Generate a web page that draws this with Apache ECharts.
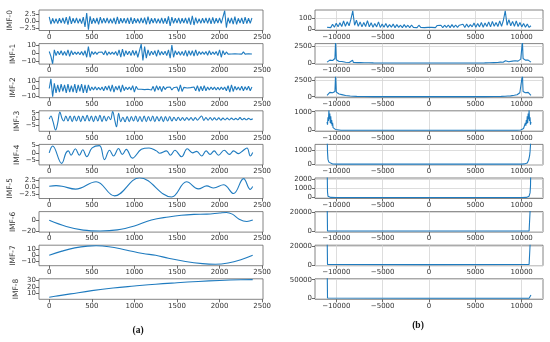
<!DOCTYPE html>
<html><head><meta charset="utf-8">
<script src="https://cdn.jsdelivr.net/npm/echarts@6/dist/echarts.min.js"></script>
<style>html,body{margin:0;padding:0;background:#fff}#c{width:550px;height:342px}</style>
</head><body><div id="c"></div>
<script>
// ---------- data ----------
const sampleStep = 20; // sample spacing for the noisy IMFs
const imf0 = [1.4,-1.2,0.9,-0.9,0.8,-1.0,0.9,-0.8,1.0,-1.0,
 1.3,-1.4,1.6,-1.1,0.9,-0.8,1.0,-0.9,0.8,-1.0,
 1.3,-2.2,2.8,-3.2,1.6,-1.1,0.9,-0.9,1.0,-1.3,
 1.3,-0.9,0.9,-0.8,1.0,-0.9,0.8,-0.9,1.0,-1.2,
 1.4,-1.1,0.9,-0.8,0.9,-0.9,1.0,-1.1,1.2,-1.1,
 0.9,-0.8,0.8,-0.9,1.0,-0.8,1.1,-1.3,1.5,-1.2,
 0.9,-0.8,0.9,-0.9,0.8,-0.9,1.0,-1.0,0.9,-1.1,
 1.6,-1.8,1.3,-0.9,0.9,-0.8,1.0,-1.0,0.9,-0.8,
 1.0,-1.0,1.1,-1.4,1.8,-1.5,1.1,-0.9,0.8,-0.9,
 0.9,-0.8,1.0,-0.9,1.0,-1.1,1.2,-1.0,0.9,-0.8,
 1.0,-0.9,-1.3,3.6,-2.4,1.1,-0.9,1.0,-1.2,1.5,
 -1.3,0.9,-0.8,1.0,-1.1,1.3,-1.0,0.9,-0.9,1.0];
const imf1 = [2,-4,-13,4,-3,2.5,-2,3,-2.5,2,
 -3,4,-4,3,-2,1.5,-1.5,1.5,-2,2,
 -2.5,3,-5,8,-5,2,-1.5,1.5,-1.5,1.2,
 -1.2,1.5,-2,3,-2.5,1.5,-1.5,1.2,-1.5,2,
 -3,4,-5,5,-4,3,-2,2.5,-3,3.5,
 -2.5,3,-5,-7,11,-9,8,-6,4,-3,
 2.5,-2,3,-4,4,-2.5,2,-2,2.5,-3,
 4,-6,10,-5,3,-2,2,-2.5,2,-3,
 3.5,-4,3,-2.5,3,-3.5,4,-3,2,-1.5,
 1.5,-1.5,2,-2.5,3,-2,1.5,-1.5,2,-3,
 4,-5,3,-2,1.5,-1.2,1,-1,0.8,-0.8,
 1,-1,0.8,-1.2,1.5,-1.2,1,-0.8,1.5,-1];
const imf2 = [0,13,-11,7,-6,5,-5,6,-4,5,
 -6,6,-5,4,-5,6,-6,5,-4,6,
 -6,5,-6,5,-3,2,-2,2.5,-2,1.5,
 -2,2,-3,3,-2,4,-4,5,-5,3,
 -2,4,-5,5,-3,2,-1.5,2,-2,4,
 -5,3,-1,1.5,-1,1.2,-1.5,1,-1,1.5,
 -2,3,-4,4,-2,3,-4,3,-1.5,1.5,
 -1,2,-2,1,-1.5,2,-4,5,-4,1.5,
 -1,0.8,-1,1.2,-1,2,-3,4,-4,3,
 -3,4,-3,2,-2,2,-1.5,2,-2,1.5,
 -2,2,-1.5,2,-3,4,-5,5,-4,3,
 -2,2,-2.5,3,-3,2.5,-2,3,-3,2];
const imf3 = [[0,0],[20,2.5],[45,-2],[75,-8.5],[100,-3],[125,5.5],[150,0.5],[170,-1.5],[195,2.5],[220,-1.5],[245,2.5],[270,-2],[295,2.5],[320,-1.5],[345,2.5],[370,-2],[395,2.5],[420,-1.5],[445,3],[470,-1.5],[495,2.5],[520,-2],[545,2.5],[570,-1.5],[595,3],[620,-2],[645,2.5],[670,-1.5],[695,2],[720,-0.5],[745,6],[770,-1],[790,-6],[815,4.5],[840,-2],[865,1.5],[890,-2],[915,2],[940,-2],[965,2],[990,-1.5],[1015,2.5],[1040,-2],[1065,2],[1090,-2],[1115,2.5],[1140,-2],[1165,2],[1190,-1.5],[1215,2.5],[1240,-2],[1265,2],[1290,-1.5],[1315,2],[1340,-2],[1365,2],[1390,-1.5],[1415,2],[1440,-1.5],[1465,1.5],[1490,-1.2],[1515,1.5],[1540,-1],[1565,1.2],[1590,-1],[1615,1.2],[1640,-0.8],[1665,1.2],[1690,-1],[1715,1.2],[1740,-0.8],[1765,1],[1790,2.5],[1815,-1],[1840,1.2],[1865,-0.8],[1890,1.2],[1915,-0.8],[1940,1],[1965,-0.7],[1990,1],[2015,-0.8],[2040,0.8],[2065,-0.6],[2090,0.8],[2115,-0.6],[2140,0.8],[2165,-0.5],[2190,0.6],[2215,-0.5],[2240,1.2],[2265,-0.5],[2290,0.6],[2315,-0.5],[2340,0.6],[2365,-0.4],[2390,0.3]];
const imf4 = [[0,0],[40,4.5],[146,-6.8],[197,0],[225,1.3],[256,-1.5],[307,2.7],[354,-1.5],[394,2],[441,-2.5],[504,3.2],[590,4.7],[649,-4.4],[708,1.7],[755,-2],[814,2.8],[858,-1],[905,2.3],[976,-3.4],[1082,2.3],[1172,3.2],[1259,1.3],[1298,-0.2],[1377,1.3],[1424,-1.5],[1476,1.7],[1554,-2.5],[1621,2.7],[1684,0],[1731,1],[1790,-2],[1842,1.3],[1889,-1],[1936,1.3],[1987,-1.5],[2054,1.7],[2117,-1],[2164,1.3],[2223,-0.5],[2263,0.9],[2322,3.2],[2361,-2],[2389,0.3]];
const imf5 = [[0,0.3],[80,0.5],[150,0.3],[310,-0.7],[551,1.8],[767,-3],[1060,3.2],[1436,-3.4],[1613,1.8],[1751,-0.6],[1850,0.4],[1930,-0.3],[2047,0.8],[2164,-2.2],[2282,2.9],[2361,-0.8],[2389,0.2]];
const imf6 = [[0,0],[200,-11],[400,-17.5],[600,-19],[800,-17],[1000,-10],[1200,0.5],[1400,6],[1550,9],[1700,10.5],[1850,11],[2000,13],[2080,14],[2150,11],[2230,2],[2320,-2],[2390,0.5]];
const imf7 = [[0,0],[150,7],[300,12.5],[450,15.5],[550,16],[700,14.5],[900,9],[1100,3],[1250,0],[1400,-5],[1600,-10.5],[1800,-14],[1950,-15],[2100,-13],[2250,-7.5],[2389,0]];
const imf8 = [[0,4.5],[100,6.5],[250,9.5],[500,14.5],[750,18.5],[1000,21.5],[1250,24.3],[1500,26.5],[1750,28.5],[2000,30],[2250,31],[2389,31.3]];

const specStart = -11000, specStep = 198.2; // frequency bins of spectrum (b)-1
const spec0 = [22,38,18,48,22,58,25,62,28,78,30,72,35,95,170,40,85,30,70,25,65,28,82,25,62,22,55,25,70,20,50,22,55,20,45,22,50,18,45,20,40,18,45,20,40,18,42,20,38,18,40,20,36,18,35,20,
 30,20,35,18,38,20,40,18,40,20,42,18,45,20,42,20,40,22,48,20,50,22,45,25,60,22,55,25,65,22,60,28,70,25,75,30,65,28,80,30,85,170,40,90,35,75,30,80,28,65,25,55,22,50,20,35];
const spec1 = [[-11000,150],[-10900,300],[-10800,200],[-10700,450],[-10600,300],[-10500,600],[-10400,400],[-10300,650],[-10200,450],[-10150,700],[-10080,3300],[-10000,500],[-9900,350],[-9800,450],[-9700,250],[-9600,300],[-9500,180],[-9400,250],[-9300,150],[-9200,200],[-9000,120],[-8800,180],[-8600,100],[-8400,150],[-8250,420],[-8150,100],[-8000,120],[-7700,80],[-7400,100],[-7000,60],[-6500,50],[-6000,30],[-5000,25],[-4000,20],[0,20],[4000,20],[5000,25],[6000,30],[6500,50],[7000,80],[7400,100],[7700,150],[8000,120],[8150,200],[8250,350],[8400,150],[8600,200],[8800,180],[9000,300],[9200,200],[9300,350],[9400,250],[9500,400],[9600,300],[9700,500],[9800,400],[9900,600],[10000,450],[10080,3300],[10150,700],[10200,500],[10300,650],[10400,450],[10500,600],[10600,350],[10700,450],[10800,250],[10900,300],[11000,150]];
const spec2 = [[-11000,200],[-10900,450],[-10800,350],[-10700,650],[-10600,500],[-10500,800],[-10400,600],[-10300,850],[-10200,650],[-10150,800],[-10080,3300],[-10000,700],[-9900,550],[-9800,600],[-9700,400],[-9600,450],[-9500,300],[-9400,320],[-9200,220],[-9000,180],[-8800,130],[-8500,100],[-8200,70],[-7800,50],[-7000,30],[-6000,15],[-4000,10],[4000,10],[6000,15],[7000,30],[7800,50],[8200,70],[8500,100],[8800,130],[9000,180],[9200,220],[9400,320],[9500,300],[9600,450],[9700,400],[9800,600],[9900,550],[10000,700],[10080,3300],[10150,800],[10200,650],[10300,850],[10400,600],[10500,800],[10600,500],[10700,650],[10800,350],[10900,450],[11000,200]];
const spec3 = [[-11000,450],[-10950,300],[-10900,700],[-10850,500],[-10800,1080],[-10750,600],[-10700,900],[-10650,400],[-10600,750],[-10550,350],[-10500,550],[-10450,250],[-10400,400],[-10350,150],[-10300,250],[-10200,100],[-10100,50],[-9900,20],[-9500,8],[-8000,5],[8000,5],[9500,8],[9900,20],[10100,50],[10200,100],[10300,250],[10350,150],[10400,400],[10450,250],[10500,550],[10550,350],[10600,750],[10650,400],[10700,900],[10750,600],[10800,1080],[10850,500],[10900,700],[10950,300],[11000,450]];
const spec4 = [[-11000,2500],[-10950,900],[-10900,350],[-10850,250],[-10800,150],[-10700,80],[-10600,40],[-10400,15],[-10000,5],[10000,5],[10300,20],[10500,50],[10600,90],[10700,180],[10750,300],[10800,400],[10850,600],[10900,900],[10950,1400],[11000,2500]];
const spec5 = [[-11000,4000],[-10950,600],[-10900,150],[-10800,60],[-10600,20],[-10000,5],[10000,5],[10500,20],[10700,60],[10800,150],[10900,500],[10950,1200],[11000,4000]];
const spec6 = [[-11000,40000],[-10950,300],[-10800,150],[0,120],[10800,150],[10950,300],[11000,40000]];
const spec7 = [[-11000,40000],[-10950,400],[-10800,250],[0,200],[10800,250],[10950,400],[11000,40000]];
const spec8 = [[-11000,120000],[-10950,800],[-10800,400],[0,300],[10800,400],[10950,3000],[11000,9000]];

const imfNames = ['IMF-0','IMF-1','IMF-2','IMF-3','IMF-4','IMF-5','IMF-6','IMF-7','IMF-8'];
const leftXTicks = [0,500,1000,1500,2000,2500];
const rightXTicks = [-10000,-5000,0,5000,10000];
const imfYTicks = [[-2.5,0,2.5],[-10,0,10],[-10,0,10],[-5,0,5],[-5,0,5],[-2.5,0,2.5],[-20,0],[-10,0,10],[10,20,30]];
const imfYRange = [[-3.45,3.85],[-13.4,11.7],[-12.5,15.4],[-9.5,6.5],[-7.8,5.5],[-3.9,3.1],[-21,15.5],[-17.5,17],[1.3,32.5]];
const specYTicks = [[0,100],[0,2500],[0,2500],[0,1000],[0,1000],[0,1000,2000],[0,20000],[0,20000],[0,50000]];
const specYRange = [[-8,178],[-150,2950],[-150,2950],[-50,1050],[-53,1450],[-100,2100],[-1000,21000],[-1000,21000],[-2500,52500]];

// ---------- layout / style ----------
const top0 = 10, pitch = 33.6, ph = 20.5;
const nameGaps = [25,22,22,18,18,25,22,21,19];
const lineColor = '#1f7bbf';
const font = 'DejaVu Sans';
const minus = v => (v < 0 ? '\u2212' : '') + Math.abs(v);
const minus1 = v => (v < 0 ? '\u2212' : '') + Math.abs(v).toFixed(1);

const imfData = [
  imf0.map((v,i)=>[i*sampleStep,v]),
  imf1.map((v,i)=>[i*sampleStep,v]),
  imf2.map((v,i)=>[i*sampleStep,v]),
  imf3, imf4, imf5, imf6, imf7, imf8
];
const specData = [spec0.map((v,i)=>[specStart+i*specStep,v]), spec1, spec2, spec3, spec4, spec5, spec6, spec7, spec8];

const grid = [], xAxis = [], yAxis = [], series = [];
const labelStyle = {fontSize:7, color:'#333', fontFamily:font, hideOverlap:false, showMinLabel:true, showMaxLabel:true};
const tickStyle = {color:'#444', width:0.8};
const noLine = {show:false, onZero:false};
const evenK = arr => arr.filter((_, k) => k % 2 === 0);
const oddK = arr => arr.filter((_, k) => k % 2 === 1);
for (let i = 0; i < 9; i++) {
  const top = top0 + pitch * i;
  // left column
  grid.push({left:39, width:224, top:top, height:ph, show:true, borderColor:'#666', borderWidth:0.8, containLabel:false, outerBoundsMode:'none'});
  const g = grid.length - 1;
  xAxis.push({type:'value', gridIndex:g, position:'bottom', min:-120, max:2510,
    axisLine:noLine, splitLine:{show:false},
    axisTick:{show:true, length:3, customValues:leftXTicks, lineStyle:tickStyle},
    axisLabel:Object.assign({customValues:leftXTicks, margin:3, formatter:minus}, labelStyle)});
  const xi = xAxis.length - 1;
  const dec = (i === 0 || i === 5);
  const fmt = dec ? minus1 : minus;
  yAxis.push({type:'value', gridIndex:g, position:'left', min:imfYRange[i][0], max:imfYRange[i][1],
    name:imfNames[i], nameLocation:'middle', nameGap:nameGaps[i], nameRotate:90,
    nameTextStyle:{fontSize:7.5, color:'#333', fontFamily:font},
    axisLine:noLine, splitLine:{show:false},
    axisTick:{show:true, length:3, customValues:imfYTicks[i], lineStyle:tickStyle},
    axisLabel:Object.assign({customValues:evenK(imfYTicks[i]), margin:3, formatter:fmt}, labelStyle)});
  const yi = yAxis.length - 1;
  // companion axis carrying the in-between tick labels (avoids auto-hiding of close labels)
  yAxis.push({type:'value', gridIndex:g, position:'left', min:imfYRange[i][0], max:imfYRange[i][1],
    axisLine:noLine, splitLine:{show:false}, axisTick:{show:false, length:3},
    axisLabel:Object.assign({customValues:oddK(imfYTicks[i]), margin:3, formatter:fmt}, labelStyle)});
  series.push({type:'line', xAxisIndex:xi, yAxisIndex:yi, data:imfData[i], showSymbol:false, symbol:'none',
    smooth: i >= 3 ? 0.4 : false, lineStyle:{color:lineColor, width:1.1}, clip:true, silent:true});
  // right column
  grid.push({left:315, width:228, top:top, height:ph, show:true, borderColor:'#666', borderWidth:0.8, containLabel:false, outerBoundsMode:'none'});
  const h = grid.length - 1;
  xAxis.push({type:'value', gridIndex:h, position:'bottom', min:-12300, max:12300,
    axisLine:noLine,
    splitLine:{show:true, lineStyle:{color:'#d4d4d4', width:0.8}},
    axisTick:{show:true, length:3, customValues:rightXTicks, lineStyle:tickStyle},
    axisLabel:Object.assign({customValues:rightXTicks, margin:3, formatter:minus}, labelStyle)});
  const xr = xAxis.length - 1;
  yAxis.push({type:'value', gridIndex:h, position:'left', min:specYRange[i][0], max:specYRange[i][1],
    axisLine:noLine,
    splitLine:{show:true, lineStyle:{color:'#d4d4d4', width:0.8}},
    axisTick:{show:true, length:3, customValues:specYTicks[i], lineStyle:tickStyle},
    axisLabel:Object.assign({customValues:specYTicks[i], margin:3, formatter:minus}, labelStyle)});
  const yr = yAxis.length - 1;
  series.push({type:'line', xAxisIndex:xr, yAxisIndex:yr, data:specData[i], showSymbol:false, symbol:'none',
    lineStyle:{color:lineColor, width:1.1}, clip:true, silent:true});
}

const chart = echarts.init(document.getElementById('c'), null, {renderer:'canvas'});
chart.setOption({
  animation:false,
  backgroundColor:'#fff',
  grid, xAxis, yAxis, series,
  graphic:[
    {type:'text', x:138, y:331, style:{text:'(a)', font:'bold 9.5px "Liberation Serif"', fill:'#111', textAlign:'center', textVerticalAlign:'middle'}},
    {type:'text', x:418, y:326, style:{text:'(b)', font:'bold 9.5px "Liberation Serif"', fill:'#111', textAlign:'center', textVerticalAlign:'middle'}}
  ]
});
</script>
</body></html>
